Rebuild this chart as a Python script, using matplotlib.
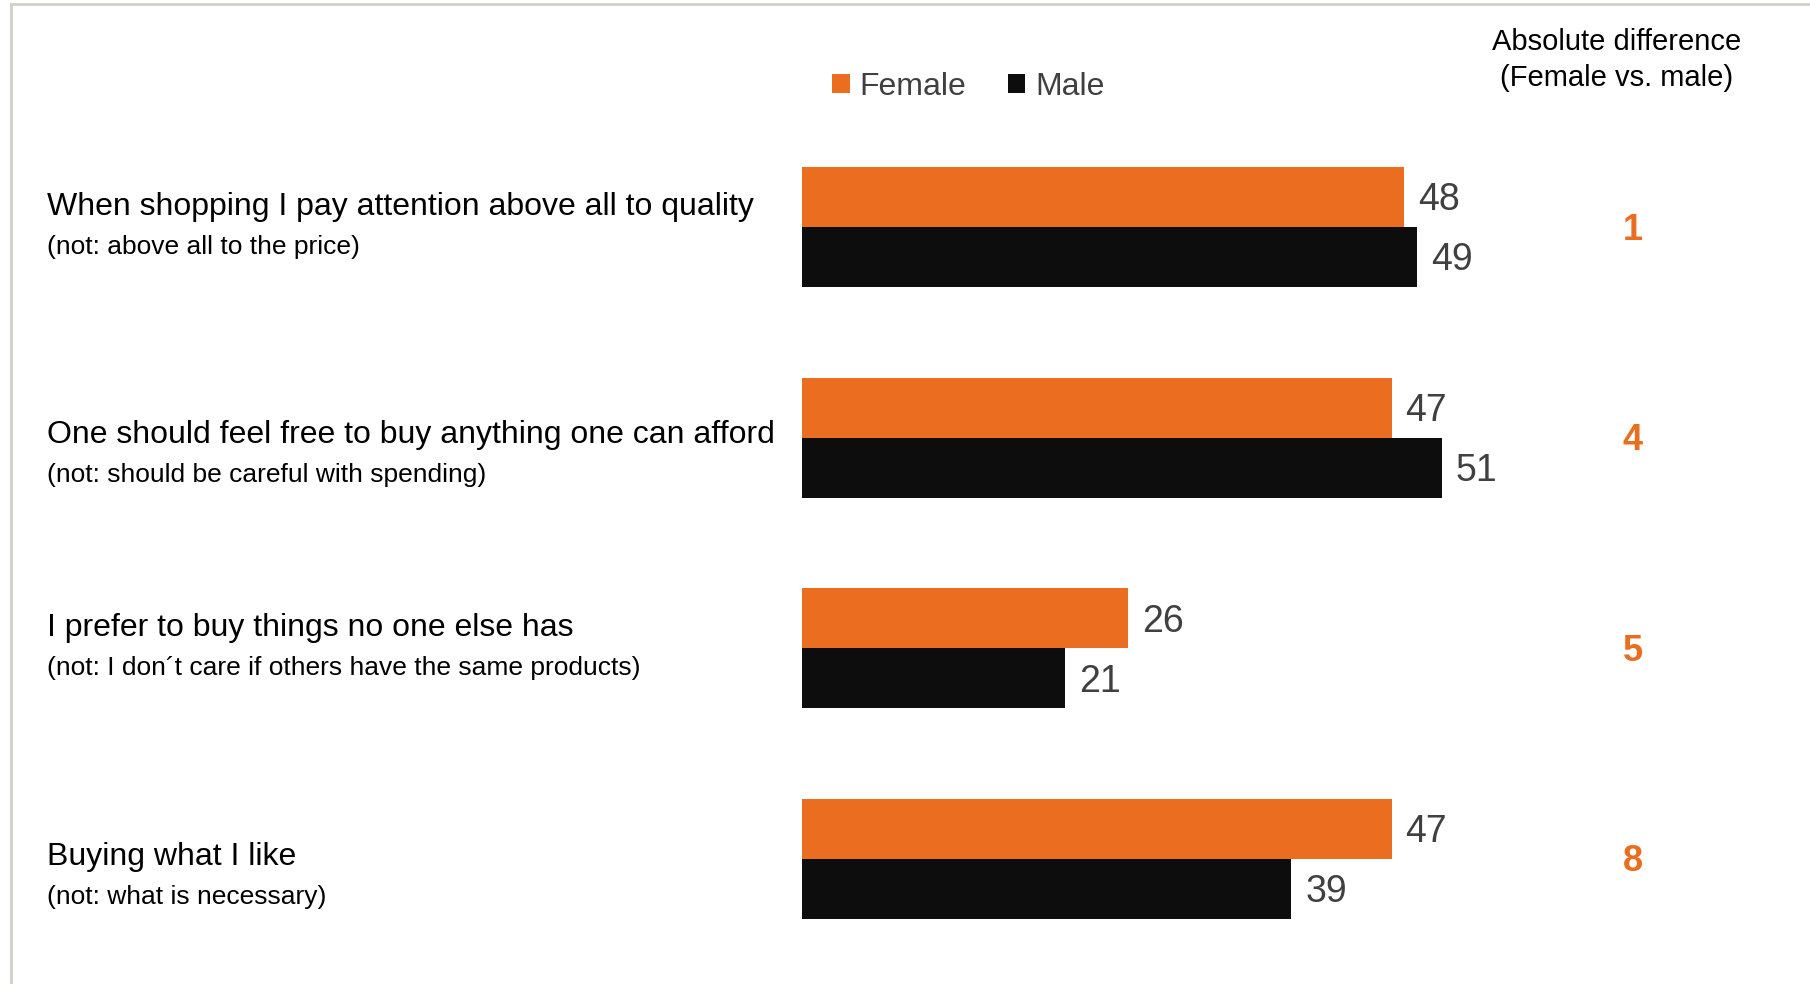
import matplotlib
matplotlib.use("Agg")
from matplotlib import pyplot as plt
from matplotlib.lines import Line2D

plt.rcParams['font.family'] = ['Liberation Sans', 'DejaVu Sans']

# data
statements = ["When shopping I pay attention above all to quality",
              "One should feel free to buy anything one can afford",
              "I prefer to buy things no one else has",
              "Buying what I like"]
notes = ["(not: above all to the price)",
         "(not: should be careful with spending)",
         "(not: I don\u00b4t care if others have the same products)",
         "(not: what is necessary)"]
female = [48, 47, 26, 47]
male = [49, 51, 21, 39]
abs_diff = [1, 4, 5, 8]

orange = "#EB6D20"
black = "#0D0D0D"
grey = "#404040"

fig = plt.figure(figsize=(18.1, 9.84), dpi=100)
ax = fig.add_axes([0.443, 0.0203, 0.5547, 0.856])

pos = list(range(len(statements)))
h = 0.285
ax.barh([p - h/2 for p in pos], female, height=h, color=orange, label="Female")
ax.barh([p + h/2 for p in pos], male, height=h, color=black, label="Male")
ax.set_xlim(0, 80)
ax.set_ylim(3.5, -0.5)
ax.axis("off")

for p, f, m in zip(pos, female, male):
    ax.annotate(str(f), (f, p - h/2), xytext=(10, -2.5), textcoords="offset points",
                va="center", ha="left", fontsize=27, color=grey)
    ax.annotate(str(m), (m, p + h/2), xytext=(10, -2.5), textcoords="offset points",
                va="center", ha="left", fontsize=27, color=grey)

# statement labels on the left (figure x, data y)
trans = matplotlib.transforms.blended_transform_factory(fig.transFigure, ax.transData)
label_dy = [-0.095, -0.01, -0.095, -0.01]
for p, s, n, d in zip(pos, statements, notes, label_dy):
    ax.text(0.026, p + d, s, transform=trans, fontsize=23, va="center", ha="left", color="black")
    ax.text(0.026, p + d + 0.19, n, transform=trans, fontsize=19, va="center", ha="left", color="black")

for p, v in zip(pos, abs_diff):
    ax.text(0.902, p + 0.015, str(v), transform=trans, fontsize=26, fontweight="bold",
            color=orange, va="center", ha="center")

fig.text(0.893, 0.957, "Absolute difference", fontsize=21, ha="center", va="center")
fig.text(0.893, 0.921, "(Female vs. male)", fontsize=21, ha="center", va="center")

fig.legend(loc="center", bbox_to_anchor=(0.535, 0.912), ncol=2, frameon=False,
           fontsize=23, labelcolor=grey, handlelength=0.55, handleheight=0.55,
           handletextpad=0.3, columnspacing=1.3)

# thin frame on top and left
fig.add_artist(Line2D([0.006, 1], [0.996, 0.996], color="#D3CFC7", lw=2))
fig.add_artist(Line2D([0.006, 0.006], [0, 0.996], color="#D3CFC7", lw=2))

fig.savefig("out.png", dpi=100)
